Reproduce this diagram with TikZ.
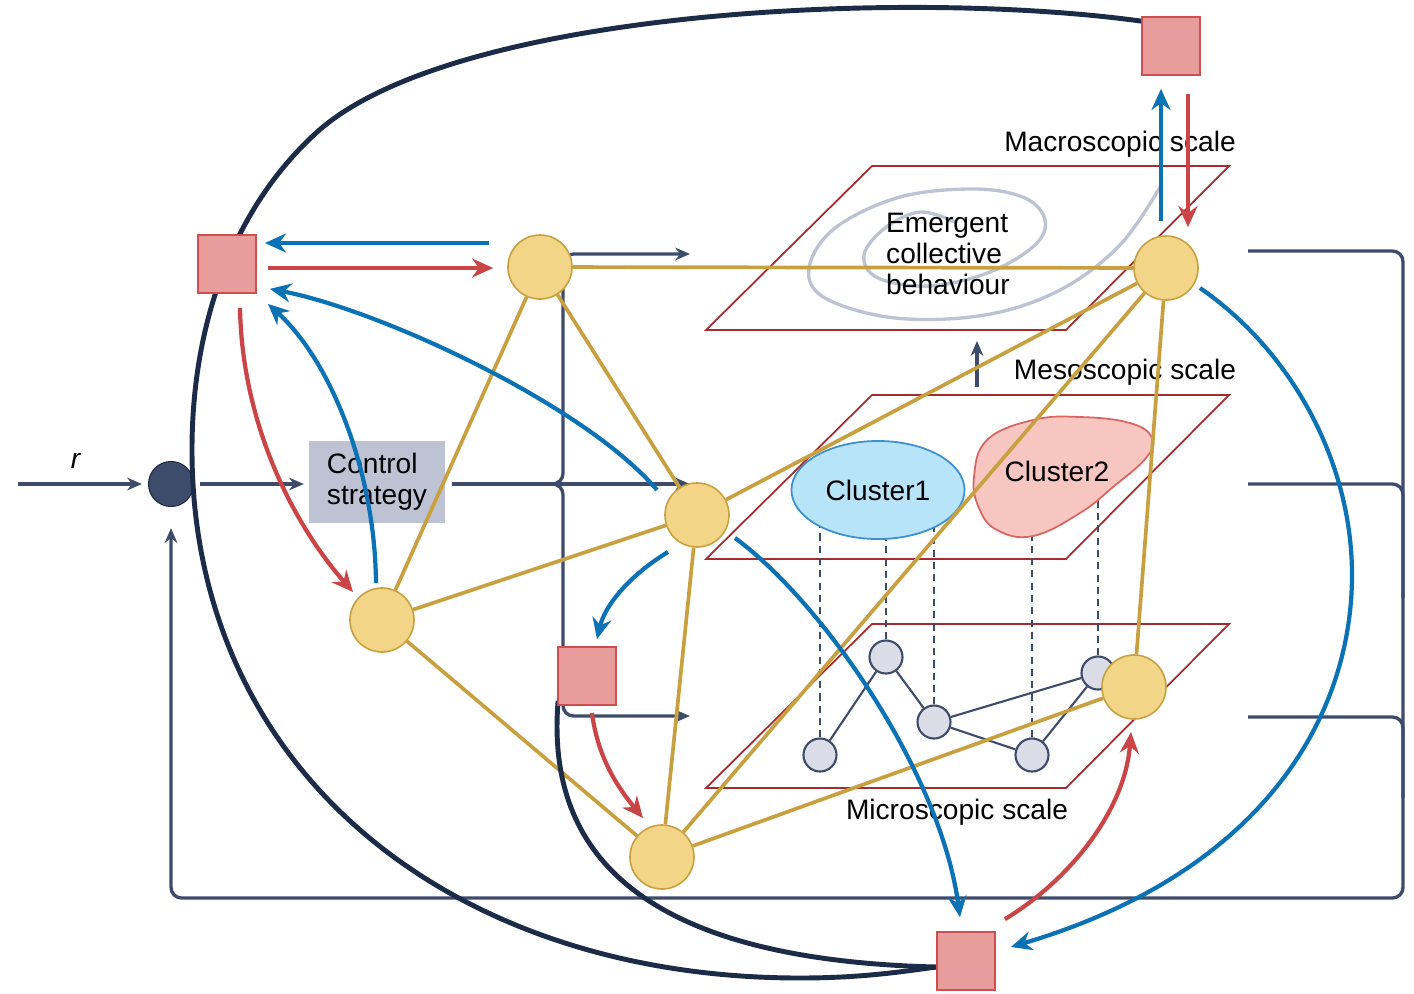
\documentclass[tikz,border=0pt]{standalone}
\usepackage{fontspec}
\setmainfont{Liberation Sans}
\usetikzlibrary{arrows.meta,calc,shapes.geometric}

\definecolor{busnavy}{HTML}{3D4C6B}
\definecolor{arcnavy}{HTML}{1B2B48}
\definecolor{agentfill}{HTML}{F2D587}
\definecolor{agentline}{HTML}{C9A040}
\definecolor{linkgold}{HTML}{C9A03F}
\definecolor{actfill}{HTML}{E89C9C}
\definecolor{actline}{HTML}{CE4F50}
\definecolor{senseblue}{HTML}{0B72B5}
\definecolor{actred}{HTML}{CC4546}
\definecolor{planered}{HTML}{A52B2E}
\definecolor{greyblue}{HTML}{BEC3D3}
\definecolor{microfill}{HTML}{DADDE6}
\definecolor{clusterblue}{HTML}{B8E4FA}
\definecolor{clusterblueline}{HTML}{3C8FD2}
\definecolor{clusterpink}{HTML}{F8C6C1}
\definecolor{clusterpinkline}{HTML}{DA6560}

\pgfdeclarelayer{planes}
\pgfdeclarelayer{back}
\pgfdeclarelayer{wires}
\pgfsetlayers{planes,back,wires,main}

\tikzset{
  agent/.style={circle, draw=agentline, fill=agentfill, line width=0.45pt, minimum size=0.64cm, inner sep=0pt},
  actuator/.style={rectangle, draw=actline, fill=actfill, line width=0.5pt, minimum size=0.58cm, inner sep=0pt},
  unit/.style={circle, draw=busnavy, fill=microfill, line width=0.6pt, minimum size=0.33cm, inner sep=0pt},
  summer/.style={circle, draw=arcnavy, fill=busnavy, line width=0.3pt, minimum size=0.45cm, inner sep=0pt},
  ctrlbox/.style={rectangle, fill=greyblue, minimum width=1.35cm, minimum height=0.82cm, align=left, inner sep=0pt},
  scalelabel/.style={inner sep=0pt},
  link/.style={draw=linkgold, line width=1.05pt},
  unitlink/.style={draw=busnavy, line width=0.6pt},
  drop/.style={draw=busnavy, line width=0.6pt, dash pattern=on 2pt off 1.5pt},
  bus/.style={draw=busnavy, line width=0.95pt},
  busarr/.style={bus, -{Stealth[length=4.2pt,width=3.6pt]}},
  sense/.style={draw=senseblue, line width=1.2pt, -{Stealth[length=6pt,width=5.4pt]}},
  actuate/.style={draw=actred, line width=1.2pt, -{Stealth[length=6pt,width=5.4pt]}},
  tie/.style={draw=arcnavy, line width=1.4pt},
  plane/.style={draw=planered, line width=0.5pt},
  swirl/.style={draw=greyblue, line width=0.95pt}
}

\begin{document}
\begin{tikzpicture}[x=0.01cm, y=-0.01cm, font=\fontsize{8}{8.8}\selectfont]
\useasboundingbox (0,0) rectangle (1414,993);

% microscopic network
\node[unit] (m1) at (820,755) {};
\node[unit] (m2) at (886,657) {};
\node[unit] (m3) at (934,722) {};
\node[unit] (m4) at (1032,755) {};
\node[unit] (m5) at (1098,673) {};

% agents
\node[agent] (Y1) at (540,267) {};
\node[agent] (Y2) at (1166,268) {};
\node[agent] (Y3) at (697,515) {};
\node[agent] (Y4) at (382,620) {};
\node[agent] (Y5) at (662,857) {};
\node[agent] (Y6) at (1134,687) {};

% actuators
\node[actuator] (S1) at (227,264) {};
\node[actuator] (S2) at (1171,46) {};
\node[actuator] (S3) at (587,676) {};
\node[actuator] (S4) at (966,961) {};

\begin{pgfonlayer}{back}
  \node[summer] (sum) at (171,484) {};
  \node[ctrlbox] (ctrl) at (377,482) {Control\\strategy};
  \node[ellipse, draw=clusterblueline, fill=clusterblue, line width=0.5pt,
        minimum width=1.73cm, minimum height=0.98cm, inner sep=0pt] (C1) at (878,490) {Cluster1};
  \draw[draw=clusterpinkline, fill=clusterpink, line width=0.5pt]
    plot[smooth cycle, tension=0.7] coordinates {(974,477) (987,440) (1033,420) (1080,417) (1130,423)
      (1152,438) (1146,458) (1113,487) (1080,513) (1033,536) (997,530) (979,508)};
  \node (C2) at (1057,471) {Cluster2};
  \draw[unitlink] (m1) -- (m2) -- (m3) -- (m5) -- (m4) -- (m3);
\end{pgfonlayer}

\begin{pgfonlayer}{planes}
  \foreach \t in {166,395,624}
    \draw[plane] (706,\t+164) -- (872,\t) -- (1229,\t) -- (1066,\t+164) -- cycle;
  \draw[swirl] plot[smooth, tension=0.6] coordinates {(955,222) (920,212) (885,228) (864,255) (878,278)
    (930,286) (990,272) (1035,245) (1045,220) (1025,198) (975,189) (900,197) (835,228) (809,268)
    (825,298) (895,318) (985,315) (1060,290) (1120,245) (1160,187)};
  \node[scalelabel] (macroLab) at (1120,144) {Macroscopic scale};
  \node[scalelabel] (mesoLab) at (1125,372) {Mesoscopic scale};
  \node[scalelabel] (microLab) at (957,812) {Microscopic scale};
  \node[align=left] (emerge) at (948,254) {Emergent\\collective\\behaviour};
  \draw[drop] (m1) -- (m1 |- C1.center);
  \draw[drop] (m2) -- (m2 |- C1.center);
  \draw[drop] (m3) -- (m3 |- C1.center);
  \draw[drop] (m4) -- (m4 |- C2.center);
  \draw[drop] (m5) -- (m5 |- C2.center);
\end{pgfonlayer}

\begin{pgfonlayer}{wires}
  % reference input and feedback loop
  \coordinate (rin) at (18,484);
  \node (rlab) at (76,461) {\textit{r}};
  \draw[busarr, shorten >=1.7pt] (rin) -- (sum);
  \draw[busarr, shorten <=1.7pt, shorten >=1.4pt] (sum) -- (ctrl.west |- sum);
  \coordinate (fork) at (563,484);
  \coordinate (toMacro) at (690,254);
  \coordinate (toMeso) at (690,484);
  \coordinate (toMicro) at (690,716);
  \draw[busarr, rounded corners=3pt, shorten <=2pt] (ctrl.east |- fork) -| (fork |- toMacro) -- (toMacro);
  \draw[busarr, shorten <=2pt] (ctrl.east |- fork) -- (toMeso);
  \draw[busarr, rounded corners=3pt, shorten <=2pt] (ctrl.east |- fork) -| (fork |- toMicro) -- (toMicro);
  \coordinate (fbMacro) at (1248,251);
  \coordinate (fbMeso) at (1248,484);
  \coordinate (fbMicro) at (1248,717);
  \coordinate (fbCorner) at (1403,898);
  \draw[busarr, rounded corners=3pt, shorten >=6pt] (fbMacro) -| (fbCorner) -| (sum.south);
  \draw[bus, rounded corners=3pt] (fbMeso) -| ($(fbCorner)+(0,-300)$);
  \draw[bus, rounded corners=3pt] (fbMicro) -| ($(fbCorner)+(0,-100)$);
  \coordinate (mesoTop) at (977,387);
  \coordinate (macroBot) at (977,341);
  \draw[busarr] (mesoTop) -- (macroBot);

  % agent links
  \draw[link] (Y1) -- (Y2) (Y1) -- (Y3) (Y1) -- (Y4) (Y2) -- (Y3) (Y2) -- (Y5)
              (Y2) -- (Y6) (Y3) -- (Y4) (Y3) -- (Y5) (Y4) -- (Y5) (Y5) -- (Y6);

  % long ties between actuators
  \coordinate (tieA) at ($(S2.north west)+(0,5)$);
  \coordinate (tieB) at ($(S4.west)+(0,6)$);
  \coordinate (tieC) at ($(S3.south west)+(1,-5)$);
  \draw[tie] (tieA) .. controls (900,-12) and (449,11) .. (316,133)
             .. controls (235,207) and (192,320) .. (192,450)
             .. controls (192,770) and (450,978) .. (800,978)
             .. controls (860,978) and (900,972) .. (tieB);
  \draw[tie] (tieC) .. controls (545,860) and (650,960) .. (tieB);

  % sensing (blue) and actuation (red)
  \draw[sense] ($(Y1.west)+(-18,-24)$) -- ($(S1.east)+(8,-21)$);
  \draw[actuate] ($(S1.east)+(11,4)$) -- ($(Y1.west)+(-14,1)$);
  \draw[sense] ($(Y3)+(-40,-25)$) .. controls (585,405) and (380,310) .. ($(S1.south east)+(13,-5)$);
  \draw[sense] ($(Y4)+(-6,-37)$) .. controls (375,470) and (330,360) .. ($(S1.south east)+(11,10)$);
  \draw[actuate] ($(S1.south)+(13,14)$) .. controls (242,420) and (290,520) .. ($(Y4)+(-29,-28)$);
  \draw[sense] ($(Y2.north)+(-5,-14)$) -- ($(S2.south)+(-10,13)$);
  \draw[actuate] ($(S2.south)+(17,18)$) -- ($(Y2.north)+(22,-8)$);
  \draw[sense] ($(Y2)+(34,20)$) .. controls (1290,350) and (1352,460) .. (1352,575)
               .. controls (1352,710) and (1270,870) .. ($(S4.east)+(15,-14)$);
  \draw[sense] ($(Y3)+(38,23)$) .. controls (820,600) and (940,770) .. ($(S4.north)+(-6,-14)$);
  \draw[sense] ($(Y3)+(-29,37)$) .. controls (630,575) and (605,605) .. ($(S3.north)+(10,-7)$);
  \draw[actuate] ($(S3.south)+(5,7)$) .. controls (598,760) and (620,790) .. ($(Y5)+(-19,-39)$);
  \draw[actuate] ($(S4.north east)+(9,-12)$) .. controls (1070,880) and (1125,810) .. ($(Y6)+(-3,45)$);
\end{pgfonlayer}
\end{tikzpicture}
\end{document}
